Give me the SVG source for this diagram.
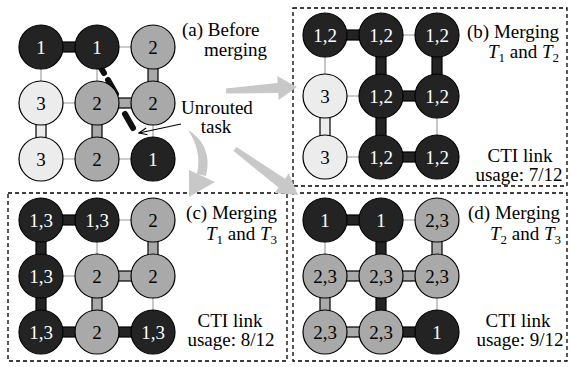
<svg xmlns="http://www.w3.org/2000/svg" width="571" height="367" viewBox="0 0 571 367">
<defs>
<style>
text{font-family:"Liberation Serif","Times New Roman",serif;font-size:19px}
.node circle{stroke:#000;stroke-width:1.2}
.d{fill:#232323}.g{fill:#a9a9a9}.l{fill:#ececec}
.node text{text-anchor:middle}
.w{fill:#fff}.k{fill:#000}
.thin{stroke:#999;stroke-width:1.1}
rect.bd,rect.bg,rect.bl{stroke:#000;stroke-width:1.2}
rect.bd{fill:#232323}rect.bg{fill:#a9a9a9}rect.bl{fill:#ececec}
.box{fill:none;stroke:#000;stroke-width:1.3;stroke-dasharray:4 3}
.big{fill:#c8c8c8}
.task{fill:none;stroke:#111;stroke-width:6;stroke-linecap:round}
.ptr{fill:none;stroke:#000;stroke-width:1.2}
.lbl{fill:#000}
</style>
<marker id="ah" markerWidth="10" markerHeight="10" refX="9" refY="5" orient="auto" markerUnits="userSpaceOnUse">
<path d="M1,1.5 L9,5 L1,8.5" fill="none" stroke="#000" stroke-width="1.2"/>
</marker>
</defs>

<!-- dashed panel frames -->
<rect class="box" x="293" y="8" width="274" height="178"/>
<rect class="box" x="8" y="193" width="279" height="168"/>
<rect class="box" x="293" y="193" width="274" height="168"/>

<!-- big grey transition arrows -->
<g id="arrows">
<polygon class="big" points="225.9,88.5 277.6,83.1 277.2,76.1 296.9,87 278.6,100.1 278.2,93.1 226.1,93.5"/>
<polygon class="big" points="236.5,147 285,178.8 288.9,173.5 298,195 274.7,192.9 278.6,187.6 233.5,151"/>
<path class="big" d="M188,130 C201,138 212,152 206,176 L197,174 C201,156 196,142 188,130 Z"/>
<polygon class="big" points="189,170 215,182 189,197"/>
</g>

<g id="connectors">
<!-- panel a -->
<line class="thin" x1="97" y1="47" x2="153" y2="47"/>
<line class="thin" x1="41" y1="103" x2="97" y2="103"/>
<line class="thin" x1="41" y1="159" x2="97" y2="159"/>
<line class="thin" x1="97" y1="159" x2="153" y2="159"/>
<line class="thin" x1="41" y1="47" x2="41" y2="103"/>
<line class="thin" x1="97" y1="47" x2="97" y2="103"/>
<line class="thin" x1="153" y1="103" x2="153" y2="159"/>
<rect class="bd" x="41" y="42" width="56" height="10"/>
<rect class="bg" x="97" y="98" width="56" height="10"/>
<rect class="bl" x="36" y="103" width="10" height="56"/>
<rect class="bg" x="92" y="103" width="10" height="56"/>
<rect class="bg" x="148" y="47" width="10" height="56"/>
<!-- panel b -->
<line class="thin" x1="381" y1="35" x2="437" y2="35"/>
<line class="thin" x1="325" y1="96" x2="381" y2="96"/>
<line class="thin" x1="325" y1="157" x2="381" y2="157"/>
<line class="thin" x1="325" y1="35" x2="325" y2="96"/>
<line class="thin" x1="437" y1="96" x2="437" y2="157"/>
<rect class="bd" x="325" y="30" width="56" height="10"/>
<rect class="bd" x="381" y="91" width="56" height="10"/>
<rect class="bd" x="381" y="152" width="56" height="10"/>
<rect class="bl" x="320" y="96" width="10" height="61"/>
<rect class="bd" x="376" y="35" width="10" height="61"/>
<rect class="bd" x="376" y="96" width="10" height="61"/>
<rect class="bd" x="432" y="35" width="10" height="61"/>
<!-- panel c -->
<line class="thin" x1="97" y1="220" x2="153" y2="220"/>
<line class="thin" x1="41" y1="276" x2="97" y2="276"/>
<line class="thin" x1="97" y1="220" x2="97" y2="276"/>
<line class="thin" x1="153" y1="276" x2="153" y2="332"/>
<rect class="bd" x="41" y="215" width="56" height="10"/>
<rect class="bg" x="97" y="271" width="56" height="10"/>
<rect class="bd" x="41" y="327" width="56" height="10"/>
<rect class="bd" x="97" y="327" width="56" height="10"/>
<rect class="bd" x="36" y="220" width="10" height="56"/>
<rect class="bd" x="36" y="276" width="10" height="56"/>
<rect class="bg" x="92" y="276" width="10" height="56"/>
<rect class="bg" x="148" y="220" width="10" height="56"/>
<!-- panel d -->
<line class="thin" x1="381" y1="220" x2="437" y2="220"/>
<line class="thin" x1="325" y1="220" x2="325" y2="276"/>
<line class="thin" x1="437" y1="276" x2="437" y2="332"/>
<rect class="bd" x="325" y="215" width="56" height="10"/>
<rect class="bg" x="325" y="271" width="56" height="10"/>
<rect class="bg" x="381" y="271" width="56" height="10"/>
<rect class="bg" x="325" y="327" width="56" height="10"/>
<rect class="bd" x="381" y="327" width="56" height="10"/>
<rect class="bg" x="320" y="276" width="10" height="56"/>
<rect class="bd" x="376" y="220" width="10" height="56"/>
<rect class="bd" x="376" y="276" width="10" height="56"/>
<rect class="bg" x="432" y="220" width="10" height="56"/>
<!-- unrouted task -->
<path class="task" d="M101,68 L104,73 M108,80 L116,94 M125,114 L133,128"/>
<line class="ptr" x1="181" y1="124" x2="139" y2="133" marker-end="url(#ah)"/>
</g>

<!-- panel a nodes -->
<g id="a11" class="node"><circle class="d" cx="41" cy="47" r="22"/><text class="w" x="41" y="53.5">1</text></g>
<g id="a12" class="node"><circle class="d" cx="97" cy="47" r="22"/><text class="w" x="97" y="53.5">1</text></g>
<g id="a13" class="node"><circle class="g" cx="153" cy="47" r="22"/><text class="k" x="153" y="53.5">2</text></g>
<g id="a21" class="node"><circle class="l" cx="41" cy="103" r="22"/><text class="k" x="41" y="109.5">3</text></g>
<g id="a22" class="node"><circle class="g" cx="97" cy="103" r="22"/><text class="k" x="97" y="109.5">2</text></g>
<g id="a23" class="node"><circle class="g" cx="153" cy="103" r="22"/><text class="k" x="153" y="109.5">2</text></g>
<g id="a31" class="node"><circle class="l" cx="41" cy="159" r="22"/><text class="k" x="41" y="165.5">3</text></g>
<g id="a32" class="node"><circle class="g" cx="97" cy="159" r="22"/><text class="k" x="97" y="165.5">2</text></g>
<g id="a33" class="node"><circle class="d" cx="153" cy="159" r="22"/><text class="w" x="153" y="165.5">1</text></g>

<!-- panel b nodes -->
<g id="b11" class="node"><circle class="d" cx="325" cy="35" r="22"/><text class="w" x="325" y="41.5">1,2</text></g>
<g id="b12" class="node"><circle class="d" cx="381" cy="35" r="22"/><text class="w" x="381" y="41.5">1,2</text></g>
<g id="b13" class="node"><circle class="d" cx="437" cy="35" r="22"/><text class="w" x="437" y="41.5">1,2</text></g>
<g id="b21" class="node"><circle class="l" cx="325" cy="96" r="22"/><text class="k" x="325" y="102.5">3</text></g>
<g id="b22" class="node"><circle class="d" cx="381" cy="96" r="22"/><text class="w" x="381" y="102.5">1,2</text></g>
<g id="b23" class="node"><circle class="d" cx="437" cy="96" r="22"/><text class="w" x="437" y="102.5">1,2</text></g>
<g id="b31" class="node"><circle class="l" cx="325" cy="157" r="22"/><text class="k" x="325" y="163.5">3</text></g>
<g id="b32" class="node"><circle class="d" cx="381" cy="157" r="22"/><text class="w" x="381" y="163.5">1,2</text></g>
<g id="b33" class="node"><circle class="d" cx="437" cy="157" r="22"/><text class="w" x="437" y="163.5">1,2</text></g>

<!-- panel c nodes -->
<g id="c11" class="node"><circle class="d" cx="41" cy="220" r="22"/><text class="w" x="41" y="226.5">1,3</text></g>
<g id="c12" class="node"><circle class="d" cx="97" cy="220" r="22"/><text class="w" x="97" y="226.5">1,3</text></g>
<g id="c13" class="node"><circle class="g" cx="153" cy="220" r="22"/><text class="k" x="153" y="226.5">2</text></g>
<g id="c21" class="node"><circle class="d" cx="41" cy="276" r="22"/><text class="w" x="41" y="282.5">1,3</text></g>
<g id="c22" class="node"><circle class="g" cx="97" cy="276" r="22"/><text class="k" x="97" y="282.5">2</text></g>
<g id="c23" class="node"><circle class="g" cx="153" cy="276" r="22"/><text class="k" x="153" y="282.5">2</text></g>
<g id="c31" class="node"><circle class="d" cx="41" cy="332" r="22"/><text class="w" x="41" y="338.5">1,3</text></g>
<g id="c32" class="node"><circle class="g" cx="97" cy="332" r="22"/><text class="k" x="97" y="338.5">2</text></g>
<g id="c33" class="node"><circle class="d" cx="153" cy="332" r="22"/><text class="w" x="153" y="338.5">1,3</text></g>

<!-- panel d nodes -->
<g id="d11" class="node"><circle class="d" cx="325" cy="220" r="22"/><text class="w" x="325" y="226.5">1</text></g>
<g id="d12" class="node"><circle class="d" cx="381" cy="220" r="22"/><text class="w" x="381" y="226.5">1</text></g>
<g id="d13" class="node"><circle class="g" cx="437" cy="220" r="22"/><text class="k" x="437" y="226.5">2,3</text></g>
<g id="d21" class="node"><circle class="g" cx="325" cy="276" r="22"/><text class="k" x="325" y="282.5">2,3</text></g>
<g id="d22" class="node"><circle class="g" cx="381" cy="276" r="22"/><text class="k" x="381" y="282.5">2,3</text></g>
<g id="d23" class="node"><circle class="g" cx="437" cy="276" r="22"/><text class="k" x="437" y="282.5">2,3</text></g>
<g id="d31" class="node"><circle class="g" cx="325" cy="332" r="22"/><text class="k" x="325" y="338.5">2,3</text></g>
<g id="d32" class="node"><circle class="g" cx="381" cy="332" r="22"/><text class="k" x="381" y="338.5">2,3</text></g>
<g id="d33" class="node"><circle class="d" cx="437" cy="332" r="22"/><text class="w" x="437" y="338.5">1</text></g>

<!-- labels -->
<g id="labels">
<text class="lbl" x="182" y="36">(a) Before</text>
<text class="lbl" x="204" y="56">merging</text>
<text class="lbl" x="217" y="114" text-anchor="middle">Unrouted</text>
<text class="lbl" x="216" y="133" text-anchor="middle">task</text>

<text class="lbl" x="559" y="38" text-anchor="end">(b) Merging</text>
<text class="lbl" x="559" y="58" text-anchor="end"><tspan font-style="italic">T</tspan><tspan font-size="13" dy="4">1</tspan><tspan dy="-4"> and </tspan><tspan font-style="italic">T</tspan><tspan font-size="13" dy="4">2</tspan></text>
<text class="lbl" x="520" y="162" text-anchor="middle">CTI link</text>
<text class="lbl" x="519" y="181" text-anchor="middle">usage: 7/12</text>

<text class="lbl" x="277" y="219" text-anchor="end">(c) Merging</text>
<text class="lbl" x="277" y="240" text-anchor="end"><tspan font-style="italic">T</tspan><tspan font-size="13" dy="4">1</tspan><tspan dy="-4"> and </tspan><tspan font-style="italic">T</tspan><tspan font-size="13" dy="4">3</tspan></text>
<text class="lbl" x="230" y="327" text-anchor="middle">CTI link</text>
<text class="lbl" x="231" y="346" text-anchor="middle">usage: 8/12</text>

<text class="lbl" x="560" y="219" text-anchor="end">(d) Merging</text>
<text class="lbl" x="561" y="240" text-anchor="end"><tspan font-style="italic">T</tspan><tspan font-size="13" dy="4">2</tspan><tspan dy="-4"> and </tspan><tspan font-style="italic">T</tspan><tspan font-size="13" dy="4">3</tspan></text>
<text class="lbl" x="518" y="327" text-anchor="middle">CTI link</text>
<text class="lbl" x="520" y="346" text-anchor="middle">usage: 9/12</text>
</g>
</svg>
